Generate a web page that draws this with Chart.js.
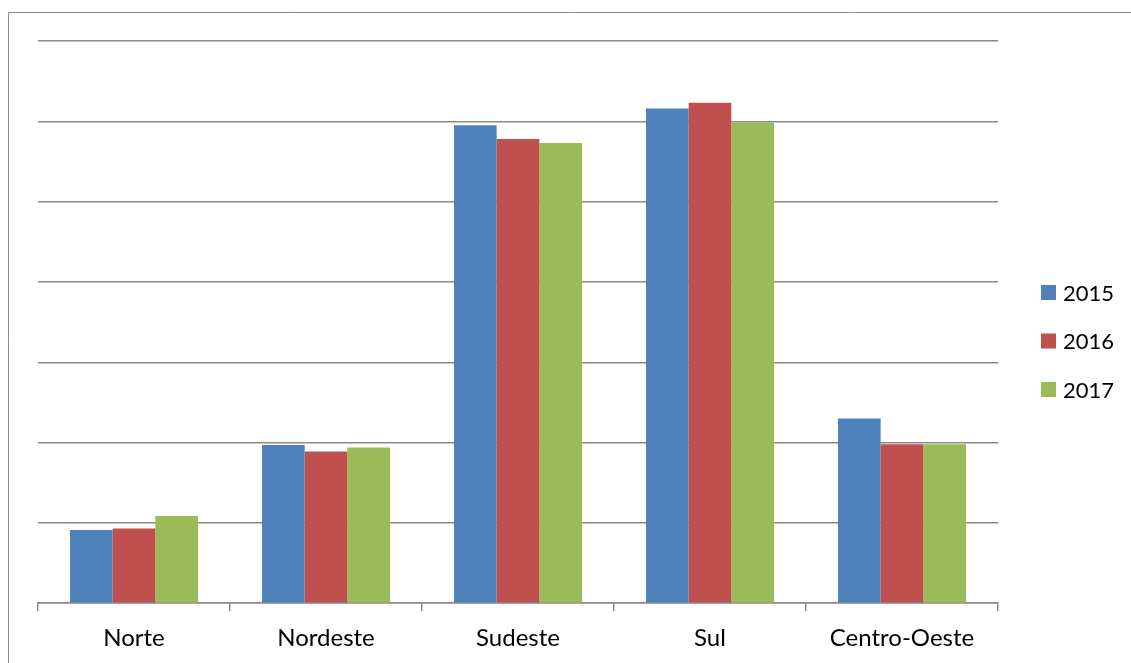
<!DOCTYPE html>
<html>
<head>
<meta charset="utf-8">
<script src="https://cdn.jsdelivr.net/npm/chart.js@4"></script>
<style>
  html, body { margin: 0; padding: 0; background: #fff; }
  #wrap { position: relative; width: 1131px; height: 663px; }
</style>
</head>
<body>
<div id="wrap"><canvas id="c" width="1131" height="663"></canvas></div>
<script>
// Regions and yearly values (axis units, gridline step = 1)
const categories = ['Norte', 'Nordeste', 'Sudeste', 'Sul', 'Centro-Oeste'];
const years = ['2015', '2016', '2017'];
const values2015 = [0.91, 1.97, 5.95, 6.16, 2.30];
const values2016 = [0.93, 1.89, 5.78, 6.23, 1.98];
const values2017 = [1.085, 1.94, 5.73, 5.985, 1.98];
const yTicks = [0, 1, 2, 3, 4, 5, 6, 7];

const colors = ['#4F81BD', '#C0504D', '#9BBB59'];
const FONT = 'Lato, "Open Sans", sans-serif';

// Outer frame (left and top edges of the chart box)
const framePlugin = {
  id: 'frame',
  beforeDraw(chart) {
    const ctx = chart.ctx;
    ctx.save();
    ctx.strokeStyle = '#8a8a8a';
    ctx.lineWidth = 1;
    ctx.beginPath();
    ctx.moveTo(8.5, chart.height);
    ctx.lineTo(8.5, 12.5);
    ctx.lineTo(chart.width, 12.5);
    ctx.stroke();
    ctx.restore();
  }
};

// Legend drawn at the right of the plot
const sideLegend = {
  id: 'sideLegend',
  afterDraw(chart) {
    const ctx = chart.ctx;
    ctx.save();
    ctx.font = '22px ' + FONT;
    ctx.textBaseline = 'middle';
    ctx.textAlign = 'left';
    chart.data.datasets.forEach((ds, i) => {
      const cy = 292.5 + i * 48.5;
      ctx.fillStyle = ds.backgroundColor;
      ctx.fillRect(1041, cy - 7.5, 15, 15);
      ctx.fillStyle = '#000';
      ctx.fillText(ds.label, 1063, cy + 1);
    });
    ctx.restore();
  }
};

const datasets = [values2015, values2016, values2017].map((vals, i) => ({
  label: years[i],
  data: vals,
  backgroundColor: colors[i],
  borderWidth: 0,
  categoryPercentage: 2 / 3,
  barPercentage: 1.0
}));

new Chart(document.getElementById('c'), {
  type: 'bar',
  data: { labels: categories, datasets },
  options: {
    responsive: false,
    animation: false,
    devicePixelRatio: 1,
    layout: { padding: { left: 38, right: 133, top: 41, bottom: -3 } },
    plugins: { legend: { display: false }, tooltip: { enabled: false } },
    scales: {
      x: {
        offset: true,
        grid: {
          offset: true,
          drawOnChartArea: false,
          drawTicks: true,
          tickLength: 8,
          color: '#8a8a8a',
          lineWidth: 1.5
        },
        border: { display: true, color: '#8a8a8a', width: 1.5 },
        ticks: {
          color: '#000',
          padding: 13,
          font: { family: FONT, size: 24 },
          maxRotation: 0
        }
      },
      y: {
        min: yTicks[0],
        max: yTicks[yTicks.length - 1],
        afterBuildTicks(scale) { scale.ticks = yTicks.map(v => ({ value: v })); },
        grid: { color: '#8a8a8a', lineWidth: 1.5, drawTicks: false },
        border: { display: false },
        ticks: { display: false }
      }
    }
  },
  plugins: [framePlugin, sideLegend]
});
</script>
</body>
</html>
